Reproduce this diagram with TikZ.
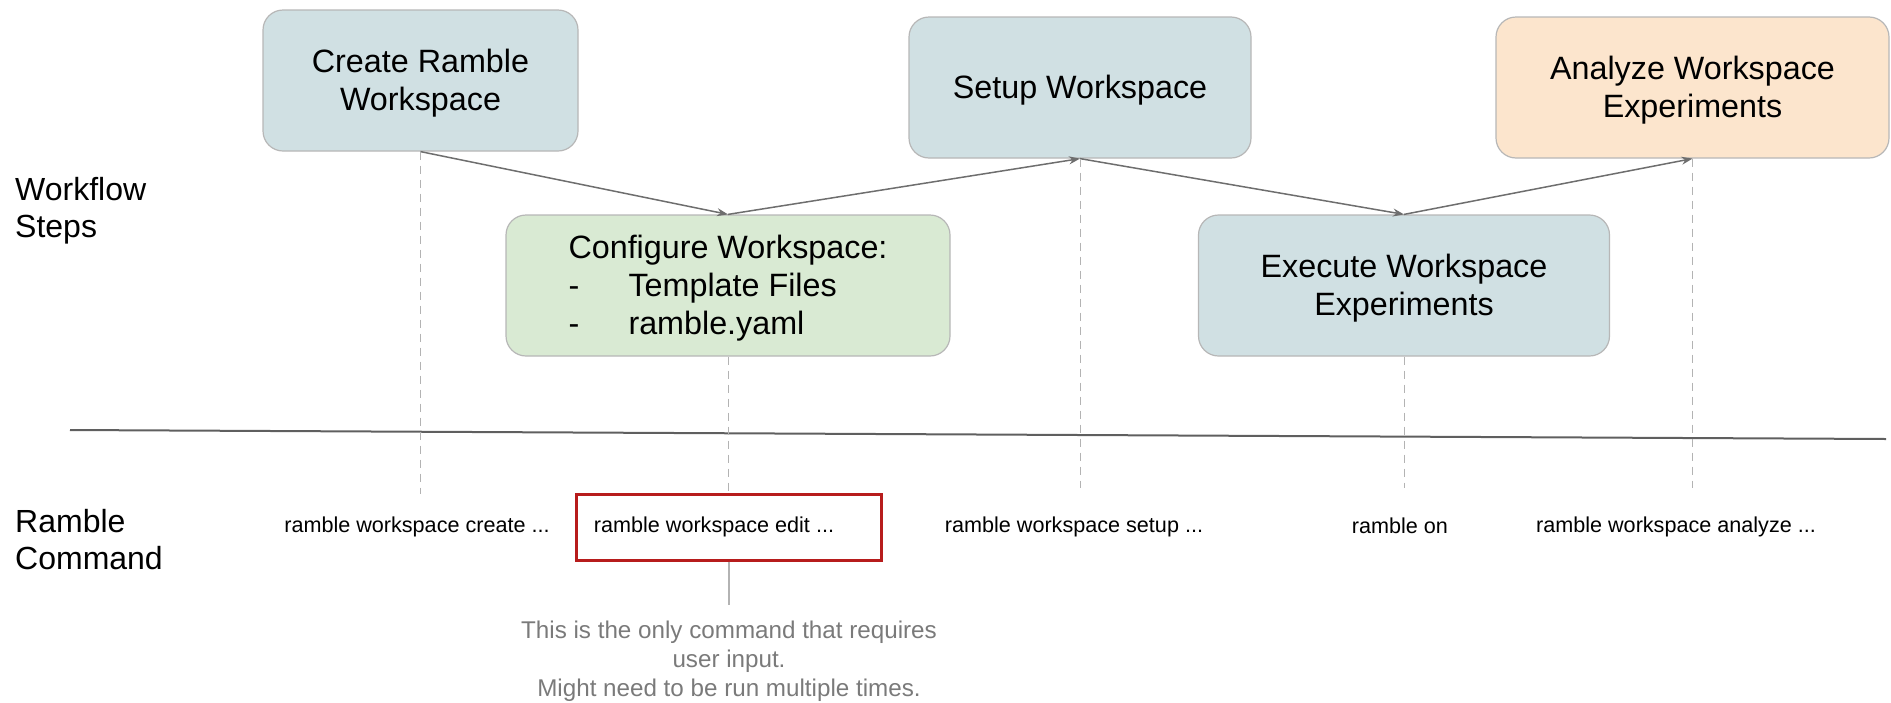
\documentclass[tikz,border=0pt]{standalone}
\usepackage{fontspec}
\setmainfont{Liberation Sans}
\usetikzlibrary{arrows.meta}
\definecolor{bluebox}{HTML}{D0E0E3}
\definecolor{greenbox}{HTML}{D9EAD3}
\definecolor{orangebox}{HTML}{FCE5CD}
\definecolor{boxedge}{HTML}{B7B7B7}
\definecolor{arrowgray}{HTML}{6E6E6E}
\definecolor{dashgray}{HTML}{B3B3B3}
\definecolor{notegray}{HTML}{7A7A7A}
\definecolor{redbox}{HTML}{B71C1C}
\definecolor{axisgray}{HTML}{5F5F5F}
\newcommand{\tstrut}{\rule{0pt}{29pt}}
\tikzset{
  stepbox/.style={draw=boxedge, line width=1.2pt, rounded corners=20pt, inner sep=0pt,
    align=center, font=\fontsize{32.3}{38}\selectfont, text=black},
  flowarrow/.style={draw=arrowgray, line width=1.5pt, -{Stealth[length=11pt,width=8pt]}},
  guide/.style={draw=dashgray, line width=1pt, dash pattern=on 8pt off 6pt},
  cmd/.style={font=\fontsize{21.6}{26}\selectfont, text=black, inner sep=0pt},
  sidelabel/.style={font=\fontsize{32}{37}\selectfont, align=left, anchor=west, inner sep=0pt},
}
\begin{document}
\begin{tikzpicture}[x=1pt,y=-1pt]
\useasboundingbox (0,0) rectangle (1891,702);

% workflow boxes
\node[stepbox, fill=bluebox, minimum width=315pt, minimum height=141pt] (create) at (420.5,80.5) {\tstrut Create Ramble\\Workspace};
\node[stepbox, fill=greenbox, minimum width=444pt, minimum height=141pt, align=left] (config) at (728,285.5)
  {\tstrut Configure Workspace:\\\makebox[60pt][l]{-}Template Files\\\makebox[60pt][l]{-}ramble.yaml};
\node[stepbox, fill=bluebox, minimum width=342pt, minimum height=141pt] (setup) at (1080,87.5) {\tstrut Setup Workspace};
\node[stepbox, fill=bluebox, minimum width=411pt, minimum height=141pt] (exec) at (1404,285.5) {\tstrut Execute Workspace\\Experiments};
\node[stepbox, fill=orangebox, minimum width=393pt, minimum height=141pt] (analyze) at (1692.5,87.5) {\tstrut Analyze Workspace\\Experiments};

% flow arrows
\draw[flowarrow] (create.south) -- (config.north);
\draw[flowarrow] (config.north) -- (setup.south);
\draw[flowarrow] (setup.south) -- (exec.north);
\draw[flowarrow] (exec.north) -- (analyze.south);

% separator line
\coordinate (hl) at (70,430);
\coordinate (hr) at (1886,439);
\draw[axisgray, line width=2pt] (hl) -- (hr);

% side labels
\node[sidelabel] (wflabel) at (15,210.5) {Workflow\\Steps};
\node[sidelabel] (rclabel) at (15,540) {Ramble\\Command};

% commands
\node[cmd] (ccreate) at (417,527) {ramble workspace create ...};
\node[draw=redbox, line width=3pt, minimum width=305pt, minimum height=66pt, inner sep=0pt] (redframe) at (729,527) {};
\node[cmd] (cedit) at (714,527) {ramble workspace edit ...};
\node[cmd] (csetup) at (1074,527) {ramble workspace setup ...};
\node[cmd] (con) at (1400,526) {ramble on};
\node[cmd] (canalyze) at (1676,527) {ramble workspace analyze ...};

% dashed guides
\coordinate (g1) at (420.5,494);
\coordinate (g2) at (728,492);
\coordinate (g3) at (1080,488);
\coordinate (g4) at (1404,488);
\coordinate (g5) at (1692.5,488);
\draw[guide] (create.south) -- (g1);
\draw[guide] (config.south) -- (g2);
\draw[guide] (setup.south) -- (g3);
\draw[guide] (exec.south) -- (g4);
\draw[guide] (analyze.south) -- (g5);

% note
\coordinate (noteend) at (729,605);
\draw[dashgray, line width=1.2pt] (redframe.south) -- (noteend);
\node[font=\fontsize{24.2}{29}\selectfont, text=notegray, align=center, inner sep=0pt] (note) at (729,661)
  {This is the only command that requires\\user input.\\Might need to be run multiple times.};
\end{tikzpicture}
\end{document}
